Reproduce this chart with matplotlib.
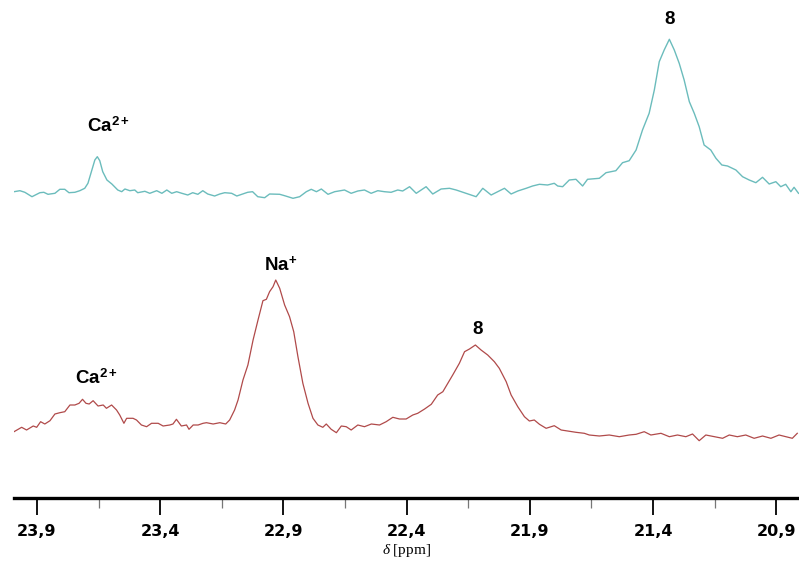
import numpy as np
import matplotlib
matplotlib.use('Agg')
import matplotlib.pyplot as plt
from matplotlib.ticker import FixedLocator, FuncFormatter

# upper spectrum (teal)
ppm_top = [23.993, 23.969, 23.949, 23.920, 23.888, 23.872, 23.855, 23.827, 23.807, 23.787,
           23.770, 23.746, 23.726, 23.706, 23.693, 23.677, 23.665, 23.655, 23.645, 23.633,
           23.616, 23.596, 23.572, 23.556, 23.543, 23.523, 23.503, 23.491, 23.462, 23.442,
           23.414, 23.393, 23.373, 23.353, 23.333, 23.312, 23.288, 23.268, 23.247, 23.227,
           23.207, 23.179, 23.158, 23.138, 23.110, 23.089, 23.065, 23.045, 23.025, 23.004,
           22.976, 22.956, 22.915, 22.895, 22.861, 22.834, 22.807, 22.787, 22.766, 22.746,
           22.719, 22.692, 22.652, 22.625, 22.598, 22.571, 22.544, 22.517, 22.490, 22.463,
           22.436, 22.416, 22.388, 22.361, 22.321, 22.294, 22.260, 22.226, 22.199, 22.159,
           22.118, 22.091, 22.057, 22.030, 22.003, 21.976, 21.949, 21.915, 21.889, 21.861,
           21.828, 21.801, 21.787, 21.767, 21.740, 21.713, 21.686, 21.666, 21.618, 21.591,
           21.551, 21.524, 21.497, 21.469, 21.443, 21.416, 21.395, 21.375, 21.355, 21.334,
           21.314, 21.294, 21.274, 21.253, 21.233, 21.213, 21.193, 21.166, 21.145, 21.121,
           21.098, 21.064, 21.037, 21.010, 20.983, 20.956, 20.929, 20.902, 20.882, 20.862,
           20.841, 20.828, 20.810]
int_top = [-1.7, -0.7, -2.3, -6.7, -2.7, -2.3, -4.3, -3.3, 0.7, 0.7,
           -2.7, -2.3, -0.7, 1.7, 6.7, 20.0, 30.0, 33.3, 29.3, 18.3,
           10.0, 6.0, 0.0, -1.7, 1.0, -0.7, 0.0, -2.7, -1.3, -3.3,
           -0.7, -3.3, 0.0, -3.3, -1.7, -3.3, -5.0, -2.7, -4.3, -0.7,
           -4.0, -6.0, -4.0, -2.7, -3.3, -6.0, -4.0, -2.3, -1.7, -6.7,
           -7.7, -4.0, -4.3, -5.7, -8.3, -6.7, -1.7, 0.7, -1.7, 1.0,
           -4.3, -1.7, 0.0, -3.3, -1.0, 0.0, -3.3, -0.7, -1.7, -2.3,
           0.0, -1.0, 3.3, -3.3, 3.3, -4.0, 1.0, 1.7, 0.0, -3.3,
           -6.7, 1.7, -5.0, -1.7, 1.7, -4.0, -1.0, 1.7, 4.0, 5.7,
           5.0, 6.7, 4.0, 3.3, 10.0, 10.7, 4.0, 10.7, 11.7, 17.3,
           19.3, 27.3, 29.3, 40.0, 60.0, 76.7, 100.0, 128.3, 140.0, 150.7,
           140.0, 126.7, 110.0, 88.3, 76.7, 63.3, 45.0, 40.0, 31.7, 25.0,
           24.0, 20.0, 13.3, 10.0, 7.3, 12.7, 6.0, 8.3, 3.3, 5.7,
           -1.7, 2.7, -3.3]

# lower spectrum (red)
ppm_bot = [23.993, 23.976, 23.962, 23.942, 23.915, 23.901, 23.885, 23.868, 23.847, 23.827,
           23.807, 23.787, 23.766, 23.746, 23.729, 23.715, 23.701, 23.688, 23.672, 23.652,
           23.631, 23.618, 23.597, 23.577, 23.564, 23.547, 23.536, 23.510, 23.496, 23.476,
           23.455, 23.435, 23.408, 23.388, 23.361, 23.348, 23.334, 23.314, 23.293, 23.283,
           23.266, 23.246, 23.226, 23.212, 23.185, 23.158, 23.134, 23.118, 23.098, 23.084,
           23.064, 23.044, 23.023, 23.003, 22.983, 22.969, 22.956, 22.942, 22.931, 22.915,
           22.895, 22.875, 22.858, 22.841, 22.821, 22.800, 22.780, 22.760, 22.740, 22.726,
           22.706, 22.685, 22.665, 22.645, 22.625, 22.598, 22.571, 22.543, 22.510, 22.483,
           22.456, 22.429, 22.402, 22.375, 22.355, 22.327, 22.300, 22.274, 22.253, 22.233,
           22.213, 22.186, 22.165, 22.145, 22.121, 22.098, 22.071, 22.044, 22.024, 21.996,
           21.976, 21.949, 21.922, 21.902, 21.882, 21.861, 21.834, 21.801, 21.773, 21.747,
           21.713, 21.679, 21.659, 21.618, 21.578, 21.537, 21.497, 21.469, 21.436, 21.409,
           21.368, 21.334, 21.301, 21.267, 21.240, 21.213, 21.186, 21.152, 21.118, 21.091,
           21.058, 21.024, 20.990, 20.956, 20.922, 20.889, 20.862, 20.835, 20.815]
int_bot = [-1.7, 0.7, 2.7, 0.0, 4.0, 2.7, 8.3, 6.0, 9.3, 16.0,
           17.3, 18.3, 25.0, 25.0, 26.7, 30.7, 26.7, 26.0, 29.3, 24.0,
           25.0, 21.7, 25.0, 20.0, 15.0, 6.7, 11.7, 11.7, 10.0, 5.0,
           3.3, 6.7, 6.7, 4.0, 5.0, 6.0, 10.7, 4.0, 5.0, 0.7,
           5.0, 5.0, 6.7, 7.3, 6.0, 7.3, 6.0, 10.0, 20.0, 30.0,
           50.0, 65.0, 90.0, 110.0, 129.3, 130.7, 138.3, 143.3, 150.0, 141.7,
           125.0, 113.3, 98.3, 73.3, 46.7, 26.7, 11.7, 5.0, 2.7, 6.0,
           0.7, -2.7, 4.0, 3.3, 0.0, 5.0, 3.3, 6.0, 5.0, 8.3,
           12.7, 11.0, 11.0, 15.0, 16.7, 21.0, 25.7, 35.0, 38.3, 46.7,
           55.0, 66.7, 78.3, 81.0, 85.0, 80.0, 75.0, 68.3, 61.7, 48.3,
           35.0, 23.3, 13.3, 9.0, 10.0, 5.7, 1.7, 4.3, 0.0, -1.0,
           -2.3, -3.3, -5.0, -6.0, -5.0, -6.7, -5.0, -4.3, -1.7, -5.0,
           -3.3, -6.7, -5.0, -6.7, -4.0, -10.7, -5.0, -6.7, -8.3, -5.0,
           -6.7, -5.0, -8.3, -6.0, -8.3, -5.0, -6.7, -8.3, -3.3]

offset_top = 308
offset_bot = 68

major_ticks = [23.9, 23.4, 22.9, 22.4, 21.9, 21.4, 20.9]
minor_ticks = [23.65, 23.15, 22.65, 22.15, 21.65, 21.15]

plt.rcParams['mathtext.fontset'] = 'custom'
plt.rcParams['mathtext.rm'] = 'Liberation Serif'
plt.rcParams['mathtext.it'] = 'Liberation Serif:italic'
plt.rcParams['mathtext.bf'] = 'Liberation Sans:bold'

fig = plt.figure(figsize=(7.99, 5.64), dpi=100)
ax = fig.add_axes([14 / 799, 66 / 564, 785 / 799, 498 / 564])

ax.plot(ppm_top, np.array(int_top) + offset_top, color='#6bbcbc', lw=1.0)
ax.plot(ppm_bot, np.array(int_bot) + offset_bot, color='#b04a4a', lw=0.9)

ax.set_xlim(23.993, 20.808)
ax.set_ylim(0, 498)

for s in ['top', 'right', 'left']:
    ax.spines[s].set_visible(False)
ax.spines['bottom'].set_linewidth(2.4)
ax.set_yticks([])

ax.xaxis.set_major_locator(FixedLocator(major_ticks))
ax.xaxis.set_minor_locator(FixedLocator(minor_ticks))
ax.xaxis.set_major_formatter(FuncFormatter(lambda v, p: ('%.1f' % v).replace('.', ',')))
ax.tick_params(axis='x', which='major', length=12, width=1.3, pad=7,
               labelsize=11.5, color='black')
ax.tick_params(axis='x', which='minor', length=7, width=0.9, color='#777777')
for lab in ax.get_xticklabels():
    lab.set_fontweight('bold')

ax.set_xlabel(r'$\delta$ [ppm]', fontsize=11, family='Liberation Serif', labelpad=2)

lab_kw = dict(ha='center', va='center', fontsize=13.5, fontweight='bold',
              family='Liberation Sans')
ax.text(23.61, 372, r'Ca$^{\mathbf{2+}}$', **lab_kw)
ax.text(21.334, 479, '8', **lab_kw)
ax.text(22.91, 233, r'Na$^{\mathbf{+}}$', **lab_kw)
ax.text(22.113, 168, '8', **lab_kw)
ax.text(23.66, 120, r'Ca$^{\mathbf{2+}}$', **lab_kw)

fig.savefig('out.png', dpi=100)
